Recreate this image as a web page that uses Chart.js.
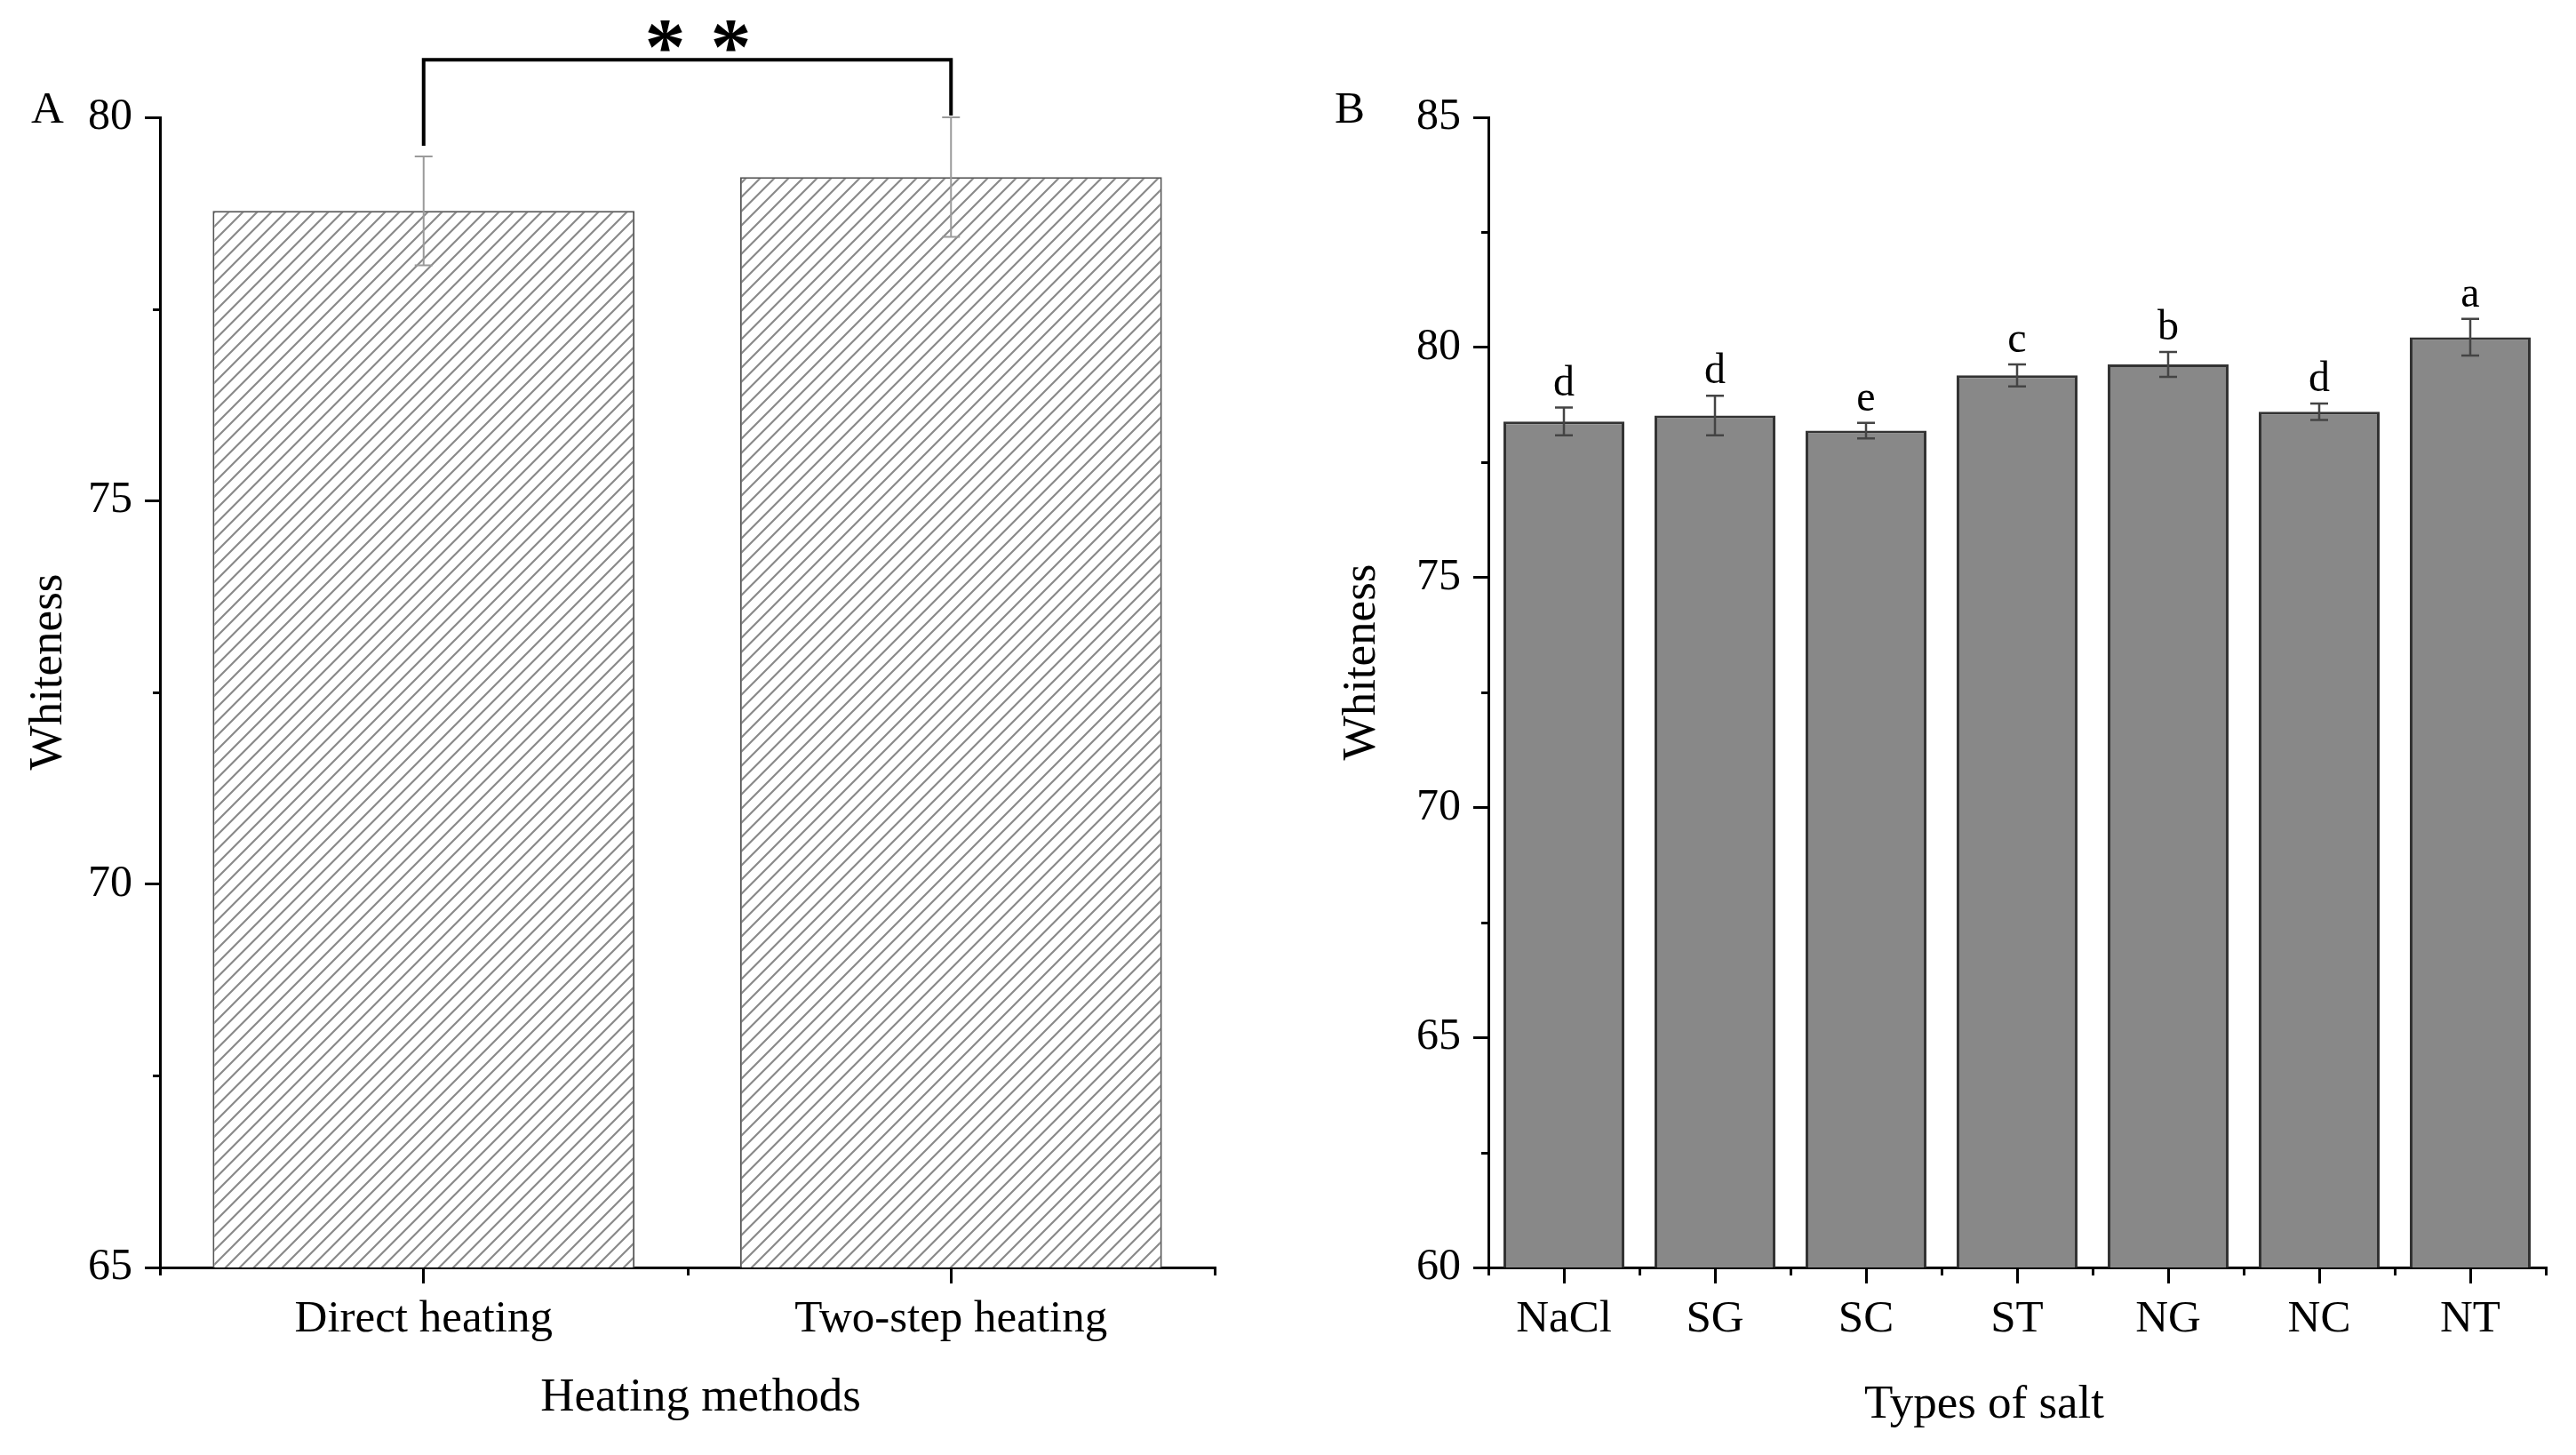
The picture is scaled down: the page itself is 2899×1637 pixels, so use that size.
<!DOCTYPE html>
<html>
<head>
<meta charset="utf-8">
<script src="https://cdn.jsdelivr.net/npm/chart.js@4.4.1/dist/chart.umd.min.js"></script>
<style>
    html, body { margin: 0; padding: 0; background: #fff; }
    .panel { position: absolute; top: 0; }
    #panelA { left: 0; }
    #panelB { left: 1450px; }
</style>
</head>
<body>
<div class="panel" id="panelA"><canvas id="chartA" width="1420" height="1637" style="width:1420px;height:1637px"></canvas></div>
<div class="panel" id="panelB"><canvas id="chartB" width="1449" height="1637" style="width:1449px;height:1637px"></canvas></div>
<script>
// Datos del panel A: métodos de calentamiento
const heatingMethods = ['Direct heating', 'Two-step heating'];
const heatingWhiteness = [78.78, 79.22];
const heatingSD = [0.71, 0.78];
const ticksA = [65, 70, 75, 80];

// Datos del panel B: tipos de sal
const saltTypes = ['NaCl', 'SG', 'SC', 'ST', 'NG', 'NC', 'NT'];
const saltWhiteness = [78.39, 78.52, 78.19, 79.39, 79.63, 78.60, 80.22];
const saltSD = [0.30, 0.43, 0.17, 0.24, 0.27, 0.18, 0.40];
const saltLetters = ['d', 'd', 'e', 'c', 'b', 'd', 'a'];
const ticksB = [60, 65, 70, 75, 80, 85];

const FONT = 'Liberation Serif, Times New Roman, serif';

// Patrón rayado para las barras del panel A
function makeHatch(ctx) {
    const s = 16;
    const c = document.createElement('canvas');
    c.width = s; c.height = s;
    const g = c.getContext('2d');
    g.fillStyle = '#fff';
    g.fillRect(0, 0, s, s);
    g.strokeStyle = '#8a8a8a';
    g.lineWidth = 2.2;
    g.beginPath();
    g.moveTo(0, s); g.lineTo(s, 0);
    g.moveTo(-s / 2, s / 2); g.lineTo(s / 2, -s / 2);
    g.moveTo(s / 2, s * 1.5); g.lineTo(s * 1.5, s / 2);
    g.stroke();
    return ctx.createPattern(c, 'repeat');
}

// Plugin: ticks menores, barras de error, letras, corchete y títulos de ejes
const decor = {
    id: 'decor',
    afterDraw(chart, args, o) {
        const ctx = chart.ctx;
        const x = chart.scales.x, y = chart.scales.y;
        const n = chart.data.labels.length;
        ctx.save();
        ctx.strokeStyle = '#000';
        ctx.lineWidth = 3;

        // ticks menores del eje y
        ctx.beginPath();
        for (let v = y.min + 2.5; v < y.max; v += 5) {
            const py = Math.round(y.getPixelForValue(v)) + 0.5;
            ctx.moveTo(x.left - 8, py); ctx.lineTo(x.left, py);
        }
        // ticks menores del eje x (bordes de categoría)
        for (let i = 0; i <= n; i++) {
            const px = Math.round(x.getPixelForValue(i - 0.5)) + 0.5;
            ctx.moveTo(px, y.bottom); ctx.lineTo(px, y.bottom + 9);
        }
        ctx.stroke();

        // barras de error
        const values = chart.data.datasets[0].data;
        ctx.strokeStyle = o.errColor;
        ctx.lineWidth = o.errWidth;
        const tops = [];
        values.forEach((m, i) => {
            const px = x.getPixelForValue(i);
            const t = y.getPixelForValue(m + o.sd[i]);
            const b = y.getPixelForValue(m - o.sd[i]);
            tops.push(t);
            ctx.beginPath();
            ctx.moveTo(px, t); ctx.lineTo(px, b);
            ctx.moveTo(px - 10, t); ctx.lineTo(px + 10, t);
            ctx.moveTo(px - 10, b); ctx.lineTo(px + 10, b);
            ctx.stroke();
        });

        ctx.fillStyle = '#000';
        ctx.textBaseline = 'alphabetic';

        // letras de significancia
        if (o.letters) {
            ctx.font = '48px ' + FONT;
            ctx.textAlign = 'center';
            o.letters.forEach((l, i) => {
                ctx.fillText(l, x.getPixelForValue(i), tops[i] - 14);
            });
        }

        // corchete con asteriscos
        if (o.bracket) {
            const x0 = x.getPixelForValue(0), x1 = x.getPixelForValue(1);
            const by = y.getPixelForValue(o.bracket);
            ctx.strokeStyle = '#000';
            ctx.lineWidth = 4;
            ctx.beginPath();
            ctx.moveTo(x0, tops[0] - 12);
            ctx.lineTo(x0, by);
            ctx.lineTo(x1, by);
            ctx.lineTo(x1, tops[1] - 2);
            ctx.stroke();
            ctx.font = 'bold 92px ' + FONT;
            ctx.textAlign = 'center';
            const mid = (x0 + x1) / 2 + 12;
            ctx.fillText('*', mid - 37, by + 16);
            ctx.fillText('*', mid + 37, by + 16);
        }

        // títulos de los ejes
        ctx.font = '53px ' + FONT;
        ctx.textAlign = 'center';
        ctx.fillText(o.xTitle, (x.left + x.right) / 2 + o.xTitleDx, o.xTitleY);
        ctx.save();
        ctx.translate(o.yTitleX, (y.top + y.bottom) / 2 + o.yTitleDy);
        ctx.rotate(-Math.PI / 2);
        ctx.fillText('Whiteness', 0, 0);
        ctx.restore();

        // letra del panel
        ctx.font = '51px ' + FONT;
        ctx.textAlign = 'left';
        ctx.fillText(o.panel, o.panelX, 138);
        ctx.restore();
    }
};

function axisStyle(ticks, min, max, yWidth) {
    return {
        x: {
            offset: true,
            grid: { offset: false, drawOnChartArea: false, drawTicks: true, tickLength: 18, color: '#000', lineWidth: 3 },
            border: { display: true, color: '#000', width: 3 },
            ticks: { color: '#000', font: { family: FONT, size: 51 }, padding: 10, maxRotation: 0, autoSkip: false },
            afterFit: s => { s.height = 211; }
        },
        y: {
            min: min,
            max: max,
            afterBuildTicks: s => { s.ticks = ticks.map(v => ({ value: v })); },
            grid: { drawOnChartArea: false, drawTicks: true, tickLength: 17, color: '#000', lineWidth: 3 },
            border: { display: true, color: '#000', width: 3 },
            ticks: { color: '#000', font: { family: FONT, size: 50 }, padding: 14 },
            afterFit: s => { s.width = yWidth; }
        }
    };
}

const ctxA = document.getElementById('chartA').getContext('2d');

// Panel A
new Chart(ctxA, {
    type: 'bar',
    data: {
        labels: heatingMethods,
        datasets: [{
            data: heatingWhiteness,
            backgroundColor: makeHatch(ctxA),
            borderColor: '#555',
            borderWidth: 2,
            barPercentage: 0.8,
            categoryPercentage: 1.0
        }]
    },
    options: {
        responsive: false,
        animation: false,
        devicePixelRatio: 1,
        layout: { padding: { top: 132, right: 53, left: 0, bottom: 0 } },
        scales: axisStyle(ticksA, 65, 80, 180),
        plugins: {
            legend: { display: false },
            tooltip: { enabled: false },
            decor: {
                sd: heatingSD, errColor: '#9a9a9a', errWidth: 2, bracket: 80.75,
                panel: 'A', panelX: 35,
                xTitle: 'Heating methods', xTitleDx: 15, xTitleY: 1587,
                yTitleX: 69, yTitleDy: -23
            }
        }
    },
    plugins: [decor]
});

// Panel B
new Chart(document.getElementById('chartB'), {
    type: 'bar',
    data: {
        labels: saltTypes,
        datasets: [{
            data: saltWhiteness,
            backgroundColor: '#888888',
            borderColor: '#333',
            borderWidth: 3,
            borderSkipped: 'bottom',
            barPercentage: 0.8,
            categoryPercentage: 1.0
        }]
    },
    options: {
        responsive: false,
        animation: false,
        devicePixelRatio: 1,
        layout: { padding: { top: 132, right: 34, left: 0, bottom: 0 } },
        scales: axisStyle(ticksB, 60, 85, 225),
        plugins: {
            legend: { display: false },
            tooltip: { enabled: false },
            decor: {
                sd: saltSD, errColor: '#444', errWidth: 2.5, letters: saltLetters,
                panel: 'B', panelX: 52,
                xTitle: 'Types of salt', xTitleDx: -37, xTitleY: 1595,
                yTitleX: 97, yTitleDy: -34
            }
        }
    },
    plugins: [decor]
});
</script>
</body>
</html>
